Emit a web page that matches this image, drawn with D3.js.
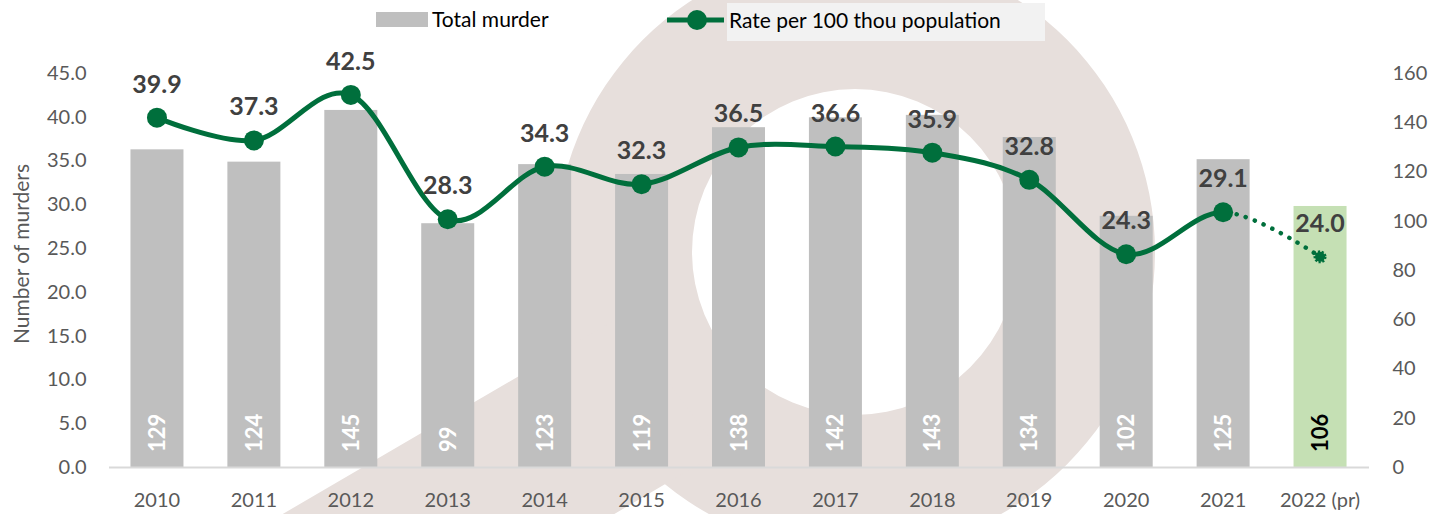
<!DOCTYPE html>
<html>
<head>
<meta charset="utf-8">
<script src="https://cdn.jsdelivr.net/npm/d3@7"></script>
<style>
  body { margin: 0; background: #fff; }
  svg { display: block; font-family: Lato, "Open Sans", sans-serif; }
</style>
</head>
<body>
<div id="vis"></div>
<script>
const YEARS = ['2010', '2011', '2012', '2013', '2014', '2015', '2016', '2017', '2018', '2019', '2020', '2021', '2022 (pr)'];
const MURDERS = [129, 124, 145, 99, 123, 119, 138, 142, 143, 134, 102, 125, 106];
const RATES = [39.9, 37.3, 42.5, 28.3, 34.3, 32.3, 36.5, 36.6, 35.9, 32.8, 24.3, 29.1, 24.0];
const LEFT_TICKS = [0, 5, 10, 15, 20, 25, 30, 35, 40, 45];
const RIGHT_TICKS = [0, 20, 40, 60, 80, 100, 120, 140, 160];

const FRAME_WIDTH = 1445;
const FRAME_HEIGHT = 514;
const PLOT = { left: 108.5, right: 1368.5, top: 73, bottom: 467 };
const GREEN = '#006f3c';
const BAR_GRAY = '#bfbfbf';
const BAR_GREEN = '#c5e0b4';
const AXIS_TEXT = '#595959';

const data = YEARS.map((y, i) => ({ year: y, murders: MURDERS[i], rate: RATES[i] }));

const FRAME = d3.select('#vis')
  .append('svg')
  .attr('width', FRAME_WIDTH)
  .attr('height', FRAME_HEIGHT);

// faint logo watermark in the background
const WM = { cx: 855, cy: 252, outer: 300, inner: 163, fill: '#e7dfdc' };
const ringPath = d3.path();
ringPath.moveTo(WM.cx + WM.outer, WM.cy);
ringPath.arc(WM.cx, WM.cy, WM.outer, 0, Math.PI * 2);
ringPath.moveTo(WM.cx + WM.inner, WM.cy);
ringPath.arc(WM.cx, WM.cy, WM.inner, 0, Math.PI * 2);
FRAME.append('path')
  .attr('d', ringPath.toString())
  .attr('fill', WM.fill)
  .attr('fill-rule', 'evenodd');
FRAME.append('polygon')
  .attr('points', '620,317 180,574 560,546 667,483 720,452')
  .attr('fill', WM.fill);

const X_SCALE = d3.scaleBand()
  .domain(YEARS)
  .range([PLOT.left, PLOT.right])
  .paddingInner(0.453)
  .paddingOuter(0.2265);

const Y_LEFT = d3.scaleLinear().domain([0, 45]).range([PLOT.bottom, PLOT.top]);
const Y_RIGHT = d3.scaleLinear().domain([0, 160]).range([PLOT.bottom, PLOT.top]);

const cx = (d) => X_SCALE(d.year) + X_SCALE.bandwidth() / 2;

// bars (right axis)
FRAME.selectAll('.bar')
  .data(data)
  .enter()
  .append('rect')
  .attr('class', 'bar')
  .attr('x', (d) => X_SCALE(d.year))
  .attr('y', (d) => Y_RIGHT(d.murders))
  .attr('width', X_SCALE.bandwidth())
  .attr('height', (d) => Y_RIGHT(0) - Y_RIGHT(d.murders))
  .attr('fill', (d, i) => (i === data.length - 1 ? BAR_GREEN : BAR_GRAY));

// bar value labels, rotated
FRAME.selectAll('.barlabel')
  .data(data)
  .enter()
  .append('text')
  .attr('class', 'barlabel')
  .attr('transform', (d) => `translate(${cx(d) + 8},${Y_RIGHT(0) - 15}) rotate(-90)`)
  .attr('font-size', 22)
  .attr('font-weight', 'bold')
  .attr('fill', (d, i) => (i === data.length - 1 ? '#000' : '#fff'))
  .text((d) => d.murders);

// x axis
const xAxis = FRAME.append('g')
  .attr('transform', `translate(0,${PLOT.bottom})`)
  .call(d3.axisBottom(X_SCALE).tickSize(0).tickSizeOuter(0).tickPadding(26));
xAxis.select('.domain').attr('stroke', '#d9d9d9').attr('stroke-width', 2);
xAxis.selectAll('text').attr('font-size', 20).attr('fill', AXIS_TEXT).attr('font-family', 'Lato');

// left axis
const yAxisL = FRAME.append('g')
  .attr('transform', `translate(${PLOT.left},0)`)
  .call(d3.axisLeft(Y_LEFT).tickValues(LEFT_TICKS).tickFormat(d3.format('.1f')).tickSize(0).tickPadding(22));
yAxisL.select('.domain').remove();
yAxisL.selectAll('text').attr('font-size', 20).attr('fill', AXIS_TEXT).attr('font-family', 'Lato');

// right axis
const yAxisR = FRAME.append('g')
  .attr('transform', `translate(${PLOT.right},0)`)
  .call(d3.axisRight(Y_RIGHT).tickValues(RIGHT_TICKS).tickSize(0).tickPadding(24));
yAxisR.select('.domain').remove();
yAxisR.selectAll('text').attr('font-size', 20).attr('fill', AXIS_TEXT).attr('font-family', 'Lato');

FRAME.append('text')
  .attr('transform', 'translate(20,254) rotate(-90)')
  .attr('text-anchor', 'middle')
  .attr('dominant-baseline', 'central')
  .attr('font-size', 21)
  .attr('fill', AXIS_TEXT)
  .text('Number of murders');

// rate line (left axis): solid up to 2021, dotted for the provisional year
const lastSolid = data[data.length - 2];
const splitX = cx(lastSolid);
const defs = FRAME.append('defs');
defs.append('clipPath').attr('id', 'clip-solid')
  .append('rect').attr('x', 0).attr('y', 0).attr('width', splitX).attr('height', FRAME_HEIGHT);
defs.append('clipPath').attr('id', 'clip-dot')
  .append('rect').attr('x', splitX + 8).attr('y', 0).attr('width', FRAME_WIDTH).attr('height', FRAME_HEIGHT);

const line = d3.line()
  .x(cx)
  .y((d) => Y_LEFT(d.rate))
  .curve(d3.curveCardinal.tension(0));

FRAME.append('path')
  .datum(data)
  .attr('d', line)
  .attr('fill', 'none')
  .attr('stroke', GREEN)
  .attr('stroke-width', 5)
  .attr('clip-path', 'url(#clip-solid)');

FRAME.append('path')
  .datum(data)
  .attr('d', line)
  .attr('fill', 'none')
  .attr('stroke', GREEN)
  .attr('stroke-width', 4.5)
  .attr('stroke-linecap', 'round')
  .attr('stroke-dasharray', '0.1 9.5')
  .attr('clip-path', 'url(#clip-dot)');

FRAME.selectAll('.marker')
  .data(data.slice(0, -1))
  .enter()
  .append('circle')
  .attr('class', 'marker')
  .attr('cx', cx)
  .attr('cy', (d) => Y_LEFT(d.rate))
  .attr('r', 10)
  .attr('fill', GREEN);

const last = data[data.length - 1];
FRAME.append('circle')
  .attr('cx', cx(last))
  .attr('cy', Y_LEFT(last.rate))
  .attr('r', 5)
  .attr('fill', GREEN)
  .attr('stroke', GREEN)
  .attr('stroke-width', 3)
  .attr('stroke-dasharray', '2 1.5');

FRAME.selectAll('.ratelabel')
  .data(data)
  .enter()
  .append('text')
  .attr('class', 'ratelabel')
  .attr('x', cx)
  .attr('y', (d) => Y_LEFT(d.rate) - 25)
  .attr('text-anchor', 'middle')
  .attr('font-size', 25)
  .attr('font-weight', 'bold')
  .attr('fill', '#404040')
  .text((d) => d3.format('.1f')(d.rate));

// legend
FRAME.append('rect')
  .attr('x', 376).attr('y', 12).attr('width', 52).attr('height', 15)
  .attr('fill', BAR_GRAY);
FRAME.append('text')
  .attr('x', 432).attr('y', 27)
  .attr('font-size', 21).attr('fill', '#000')
  .text('Total murder');

FRAME.append('rect')
  .attr('x', 727).attr('y', 3).attr('width', 318).attr('height', 38)
  .attr('fill', '#f2f2f2');
FRAME.append('line')
  .attr('x1', 667).attr('x2', 724).attr('y1', 20).attr('y2', 20)
  .attr('stroke', GREEN).attr('stroke-width', 5);
FRAME.append('circle')
  .attr('cx', 697).attr('cy', 20).attr('r', 10)
  .attr('fill', GREEN);
FRAME.append('text')
  .attr('x', 729).attr('y', 28)
  .attr('font-size', 21).attr('fill', '#000')
  .text('Rate per 100 thou population');
</script>
</body>
</html>
